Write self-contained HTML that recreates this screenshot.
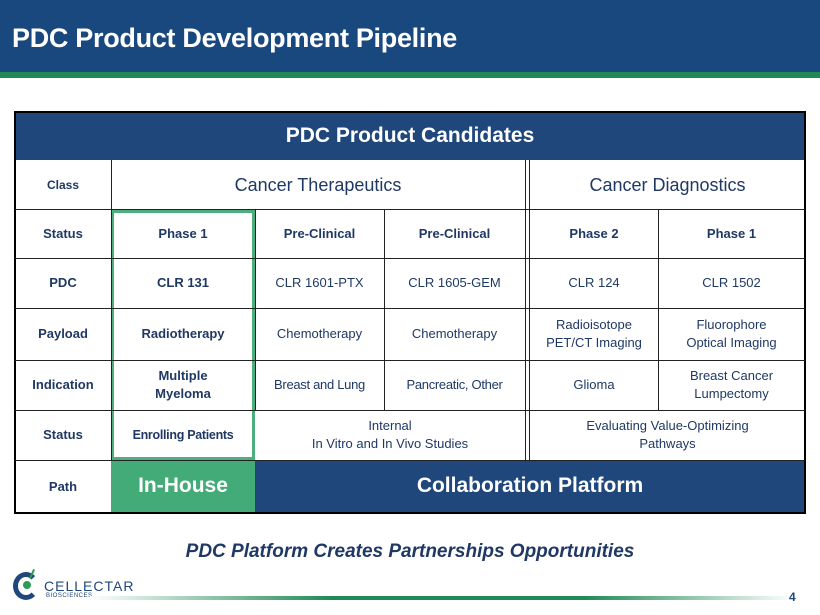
<!DOCTYPE html>
<html><head><meta charset="utf-8"><style>
*{margin:0;padding:0;box-sizing:border-box}
body{width:820px;height:615px;background:#fff;position:relative;overflow:hidden;font-family:"Liberation Sans",sans-serif;color:#1f3864}
.a{position:absolute;display:flex;align-items:center;justify-content:center;text-align:center;line-height:1.35}
.b{font-weight:bold}
.h{position:absolute;background:#222}
.c{font-size:13px}
</style></head><body>
<div style="position:absolute;left:0;top:0;width:820px;height:72px;background:#19487f"></div>
<div style="position:absolute;left:0;top:72px;width:820px;height:6px;background:#1f8a55"></div>
<div class="a b" style="left:12px;top:18px;height:40px;color:#fff;font-size:27px;justify-content:flex-start;letter-spacing:-0.3px">PDC Product Development Pipeline</div>

<div style="position:absolute;left:15px;top:112px;width:790px;height:48px;background:#1f477c"></div>
<div class="a b" style="left:15px;top:112px;width:790px;height:48px;color:#fff;font-size:21px">PDC Product Candidates</div>
<div style="position:absolute;left:111px;top:210px;width:144px;height:250px;border:3px solid #4caf7d"></div>
<div style="position:absolute;left:111px;top:460px;width:144px;height:53px;background:#43ab77"></div>
<div style="position:absolute;left:255px;top:460px;width:550px;height:53px;background:#1f477c"></div>

<!-- grid lines -->
<div class="h" style="left:14px;top:111px;width:792px;height:2px;background:#000"></div>
<div class="h" style="left:14px;top:512px;width:792px;height:2px;background:#000"></div>
<div class="h" style="left:14px;top:111px;width:2px;height:403px;background:#000"></div>
<div class="h" style="left:804px;top:111px;width:2px;height:403px;background:#000"></div>
<div class="h" style="left:15px;top:209px;width:790px;height:1px"></div>
<div class="h" style="left:15px;top:258px;width:790px;height:1px"></div>
<div class="h" style="left:15px;top:308px;width:790px;height:1px"></div>
<div class="h" style="left:15px;top:360px;width:790px;height:1px"></div>
<div class="h" style="left:15px;top:410px;width:790px;height:1px"></div>
<div class="h" style="left:15px;top:460px;width:790px;height:1px"></div>
<div class="h" style="left:111px;top:160px;width:1px;height:300px"></div>
<div class="h" style="left:255px;top:210px;width:1px;height:200px"></div>
<div class="h" style="left:384px;top:210px;width:1px;height:200px"></div>
<div class="h" style="left:525px;top:160px;width:1px;height:300px"></div>
<div class="h" style="left:529px;top:160px;width:1px;height:300px"></div>
<div class="h" style="left:658px;top:210px;width:1px;height:200px"></div>

<!-- row labels -->
<div class="a b c" style="left:15px;top:160px;width:96px;height:50px;font-size:12px">Class</div>
<div class="a b c" style="left:15px;top:210px;width:96px;height:48px">Status</div>
<div class="a b c" style="left:15px;top:258px;width:96px;height:50px">PDC</div>
<div class="a b c" style="left:15px;top:308px;width:96px;height:52px">Payload</div>
<div class="a b c" style="left:15px;top:360px;width:96px;height:50px">Indication</div>
<div class="a b c" style="left:15px;top:410px;width:96px;height:50px">Status</div>
<div class="a b c" style="left:15px;top:460px;width:96px;height:53px">Path</div>

<div class="a" style="left:111px;top:160px;width:414px;height:50px;font-size:18px">Cancer Therapeutics</div>
<div class="a" style="left:530px;top:160px;width:275px;height:50px;font-size:18px">Cancer Diagnostics</div>

<div class="a b c" style="left:111px;top:210px;width:144px;height:48px">Phase 1</div>
<div class="a b c" style="left:255px;top:210px;width:129px;height:48px">Pre-Clinical</div>
<div class="a b c" style="left:384px;top:210px;width:141px;height:48px">Pre-Clinical</div>
<div class="a b c" style="left:530px;top:210px;width:128px;height:48px">Phase 2</div>
<div class="a b c" style="left:658px;top:210px;width:147px;height:48px">Phase 1</div>

<div class="a b c" style="left:111px;top:258px;width:144px;height:50px">CLR 131</div>
<div class="a c" style="left:255px;top:258px;width:129px;height:50px">CLR 1601-PTX</div>
<div class="a c" style="left:384px;top:258px;width:141px;height:50px">CLR 1605-GEM</div>
<div class="a c" style="left:530px;top:258px;width:128px;height:50px">CLR 124</div>
<div class="a c" style="left:658px;top:258px;width:147px;height:50px">CLR 1502</div>

<div class="a b c" style="left:111px;top:308px;width:144px;height:52px">Radiotherapy</div>
<div class="a c" style="left:255px;top:308px;width:129px;height:52px">Chemotherapy</div>
<div class="a c" style="left:384px;top:308px;width:141px;height:52px">Chemotherapy</div>
<div class="a c" style="left:530px;top:308px;width:128px;height:52px">Radioisotope<br>PET/CT Imaging</div>
<div class="a c" style="left:658px;top:308px;width:147px;height:52px">Fluorophore<br>Optical Imaging</div>

<div class="a b c" style="left:111px;top:360px;width:144px;height:50px">Multiple<br>Myeloma</div>
<div class="a c" style="left:255px;top:360px;width:129px;height:50px;letter-spacing:-0.3px">Breast and Lung</div>
<div class="a c" style="left:384px;top:360px;width:141px;height:50px;letter-spacing:-0.3px">Pancreatic, Other</div>
<div class="a c" style="left:530px;top:360px;width:128px;height:50px">Glioma</div>
<div class="a c" style="left:658px;top:360px;width:147px;height:50px">Breast Cancer<br>Lumpectomy</div>

<div class="a b c" style="left:111px;top:410px;width:144px;height:50px;font-size:12.5px;letter-spacing:-0.3px">Enrolling Patients</div>
<div class="a c" style="left:255px;top:410px;width:270px;height:50px">Internal<br>In Vitro and In Vivo Studies</div>
<div class="a c" style="left:530px;top:410px;width:275px;height:50px">Evaluating Value-Optimizing<br>Pathways</div>

<div class="a b" style="left:111px;top:460px;width:144px;height:53px;color:#fff;font-size:21px">In-House</div>
<div class="a b" style="left:255px;top:460px;width:550px;height:53px;color:#fff;font-size:21px">Collaboration Platform</div>

<div class="a b" style="left:0;top:536px;width:820px;height:32px;font-size:19px;font-style:italic">PDC Platform Creates Partnerships Opportunities</div>

<!-- logo -->
<div style="position:absolute;left:13px;top:572px;width:26px;height:28px;border-radius:50%;border:5px solid #1f477c;border-right-color:transparent"></div>
<div style="position:absolute;left:23px;top:581px;width:8px;height:8px;border-radius:50%;background:#2e9a5a"></div>
<div style="position:absolute;left:31px;top:569px;width:2px;height:10px;background:#2e9a5a;transform:rotate(25deg)"></div>
<div style="position:absolute;left:44px;top:578px;font-size:14px;color:#1f477c;letter-spacing:1px">CELLECTAR</div>
<div style="position:absolute;left:46px;top:593px;font-size:6px;color:#1f477c;letter-spacing:0.5px">BIOSCIENCES</div>
<div style="position:absolute;left:90px;top:596px;width:405px;height:4px;background:linear-gradient(90deg,#fff,#1f8a55 60%,#1f8a55)"></div>
<div style="position:absolute;left:494px;top:596px;width:300px;height:4px;background:linear-gradient(90deg,#1f8a55,#1f8a55 30%,#fff)"></div>
<div class="b" style="position:absolute;left:789px;top:590px;font-size:12px;color:#1f477c">4</div>
</body></html>
